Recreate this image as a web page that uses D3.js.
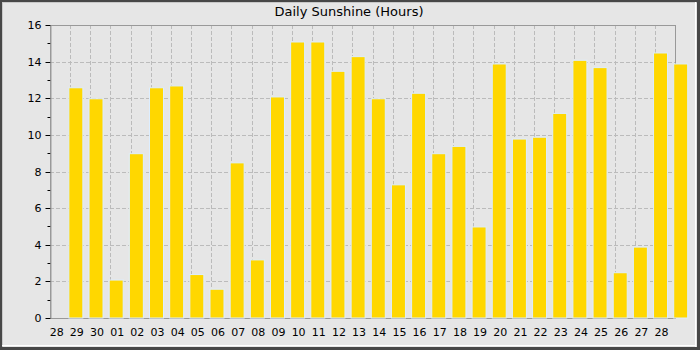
<!DOCTYPE html>
<html>
<head>
<meta charset="utf-8">
<script src="https://cdn.jsdelivr.net/npm/d3@7"></script>
<style>
  body { margin: 0; background: #fff; }
  svg { display: block; font-family: "DejaVu Sans", sans-serif; }
</style>
</head>
<body>
<svg id="chart" width="700" height="350"></svg>
<script>
// day labels on the x axis
var days = ["28","29","30","01","02","03","04","05","06","07","08","09","10","11","12",
            "13","14","15","16","17","18","19","20","21","22","23","24","25","26","27","28"];
// hours of sunshine, one per bar (the bars sit one slot to the right of their labels)
var hours = [12.6, 12.0, 2.1, 9.0, 12.6, 12.7, 2.4, 1.6, 8.5, 3.2, 12.1, 15.1, 15.1, 13.5, 14.3,
             12.0, 7.3, 12.3, 9.0, 9.4, 5.0, 13.9, 9.8, 9.9, 11.2, 14.1, 13.7, 2.5, 3.9, 14.5, 13.9];
var yTicks = [0, 2, 4, 6, 8, 10, 12, 14, 16];

var svg = d3.select("#chart");
var W = 700, H = 350;
var m = {left: 50, right: 25, top: 25, bottom: 32};

// frame
svg.append("rect").attr("width", W).attr("height", H).attr("fill", "#474747");
svg.append("rect").attr("x", 2).attr("y", 2).attr("width", W - 5).attr("height", H - 5)
    .attr("fill", "#e6e6e6");
svg.append("line").attr("x1", 2).attr("x2", 2).attr("y1", 2).attr("y2", H - 3)
    .attr("stroke", "#c8c8c8").attr("stroke-width", 1).attr("transform", "translate(0.5,0)");
svg.append("line").attr("x1", 2).attr("x2", W - 3).attr("y1", 2.5).attr("y2", 2.5)
    .attr("stroke", "#c8c8c8");
svg.append("line").attr("x1", W - 4.5).attr("x2", W - 4.5).attr("y1", 2).attr("y2", H - 3)
    .attr("stroke", "#fff");
svg.append("line").attr("x1", 2).attr("x2", W - 4).attr("y1", H - 4.5).attr("y2", H - 4.5)
    .attr("stroke", "#fff");

var x = d3.scaleLinear().domain([0, days.length]).range([m.left, W - m.right]);
var y = d3.scaleLinear().domain([0, 16]).range([H - m.bottom, m.top]);

// grid
var grid = svg.append("g").attr("stroke", "#bbbbbb").attr("stroke-dasharray", "4,2")
    .attr("shape-rendering", "crispEdges");
grid.selectAll("line.v")
    .data(d3.range(1, days.length))
    .enter().append("line")
      .attr("class", "v")
      .attr("x1", function(d) { return Math.round(x(d)) + 0.5; })
      .attr("x2", function(d) { return Math.round(x(d)) + 0.5; })
      .attr("y1", y(16)).attr("y2", y(0));
grid.selectAll("line.h")
    .data(yTicks.filter(function(d) { return d > 0 && d < 16; }))
    .enter().append("line")
      .attr("class", "h")
      .attr("x1", x(0)).attr("x2", x(days.length))
      .attr("y1", function(d) { return Math.round(y(d)) + 0.5; })
      .attr("y2", function(d) { return Math.round(y(d)) + 0.5; });

// plot box
svg.append("rect")
    .attr("x", Math.round(x(0)) + 0.5).attr("y", Math.round(y(16)) + 0.5)
    .attr("width", Math.round(x(days.length)) - Math.round(x(0)))
    .attr("height", Math.round(y(0)) - Math.round(y(16)))
    .attr("fill", "none").attr("stroke", "#999");

// bars
var step = x(1) - x(0);
svg.append("g").selectAll("rect")
    .data(hours)
    .enter().append("rect")
      .attr("x", function(d, i) { return x(i + 1) + 5.7 - 7; })
      .attr("width", 14)
      .attr("y", function(d) { return y(d) + 0.5; })
      .attr("height", function(d) { return y(0) - y(d) - 0.5; })
      .attr("fill", "#ffd700")
      .attr("stroke", "#ddeeff")
      .attr("stroke-width", 1);

// y axis
var yAxis = d3.axisLeft(y).tickValues(d3.range(0, 17, 1))
    .tickSize(0).tickFormat(function(d) { return d % 2 === 0 ? d : ""; });
var ya = svg.append("g").attr("transform", "translate(" + (Math.round(x(0)) + 0.5) + ",0)");
ya.selectAll("line.t")
    .data(d3.range(0, 17, 1))
    .enter().append("line")
      .attr("x1", function(d) { return d % 2 === 0 ? -5 : -3; }).attr("x2", 0)
      .attr("y1", function(d) { return Math.round(y(d)) + 0.5; })
      .attr("y2", function(d) { return Math.round(y(d)) + 0.5; })
      .attr("stroke", "#000");
ya.call(yAxis);
ya.select(".domain").attr("stroke", "#999");
ya.selectAll("text").attr("x", -9).attr("font-size", "11px")
    .attr("font-family", "DejaVu Sans").attr("fill", "#000");

// x labels
svg.append("g").selectAll("text")
    .data(days)
    .enter().append("text")
      .attr("x", function(d, i) { return x(i) + 6.7; })
      .attr("y", H - m.bottom + 18)
      .attr("text-anchor", "middle")
      .attr("font-size", "11px")
      .attr("fill", "#000")
      .text(function(d) { return d; });

// title
svg.append("text")
    .attr("x", 349).attr("y", 16)
    .attr("text-anchor", "middle")
    .attr("font-size", "13px")
    .attr("fill", "#000")
    .text("Daily Sunshine (Hours)");
</script>
</body>
</html>
